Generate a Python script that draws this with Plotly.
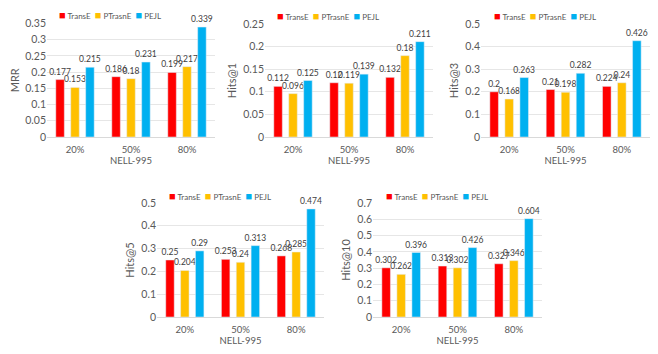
import plotly.graph_objects as go

# percentages of training data kept
CATEGORIES = ["20%", "50%", "80%"]
MODELS = ["TransE", "PTrasnE", "PEJL"]
MODEL_COLORS = ["#FF0000", "#FFC000", "#00B0F0"]

MRR_TRANSE = [0.177, 0.186, 0.199]
MRR_PTRASNE = [0.153, 0.18, 0.217]
MRR_PEJL = [0.215, 0.231, 0.339]

HITS1_TRANSE = [0.112, 0.12, 0.132]
HITS1_PTRASNE = [0.096, 0.119, 0.18]
HITS1_PEJL = [0.125, 0.139, 0.211]

HITS3_TRANSE = [0.2, 0.21, 0.224]
HITS3_PTRASNE = [0.168, 0.198, 0.24]
HITS3_PEJL = [0.263, 0.282, 0.426]

HITS5_TRANSE = [0.25, 0.253, 0.268]
HITS5_PTRASNE = [0.204, 0.24, 0.285]
HITS5_PEJL = [0.29, 0.313, 0.474]

HITS10_TRANSE = [0.302, 0.313, 0.327]
HITS10_PTRASNE = [0.262, 0.302, 0.346]
HITS10_PEJL = [0.396, 0.426, 0.604]

# (y title, series, y max, tick step)
PANELS = [
    ("MRR", [MRR_TRANSE, MRR_PTRASNE, MRR_PEJL], 0.35, 0.05),
    ("Hits@1", [HITS1_TRANSE, HITS1_PTRASNE, HITS1_PEJL], 0.25, 0.05),
    ("Hits@3", [HITS3_TRANSE, HITS3_PTRASNE, HITS3_PEJL], 0.5, 0.1),
    ("Hits@5", [HITS5_TRANSE, HITS5_PTRASNE, HITS5_PEJL], 0.5, 0.1),
    ("Hits@10", [HITS10_TRANSE, HITS10_PTRASNE, HITS10_PEJL], 0.7, 0.1),
]

# page has an 8px body margin, so the figure fills the rest of the window
PAGE_W, PAGE_H, PAGE_MARGIN = 658, 354, 8
W, H = PAGE_W - PAGE_MARGIN, PAGE_H - PAGE_MARGIN

# plot boxes in window pixels (left, right, top, bottom) and legend centres
BOXES = [(47, 215, 23.5, 137), (265, 433, 24, 137), (481, 650, 24, 137),
         (157, 324, 203, 317), (373, 542, 203, 317)]
LEGEND_POS = [(110, 15), (328, 16), (545, 16), (220, 196), (437, 196)]


def fx(x):
    return (x - PAGE_MARGIN) / W


def fy(y):
    return 1 - (y - PAGE_MARGIN) / H


FONT = "Lato, 'Liberation Sans', sans-serif"
GREY = "#595959"

fig = go.Figure()
layout = dict(
    width=W, height=H, margin=dict(l=0, r=0, t=0, b=0),
    plot_bgcolor="white", paper_bgcolor="white",
    barmode="group", bargap=0.2, bargroupgap=0.43,
    showlegend=False, font=dict(family=FONT, color=GREY),
    annotations=[],
)

for i, (title, series, ymax, step) in enumerate(PANELS):
    n = "" if i == 0 else str(i + 1)
    left, right, top, bottom = BOXES[i]
    for name, color, values in zip(MODELS, MODEL_COLORS, series):
        fig.add_trace(go.Bar(
            x=CATEGORIES, y=values, name=name, marker_color=color,
            text=[f"{v:g}" for v in values], textposition="outside",
            textfont=dict(size=8.5, color="#404040", family=FONT),
            constraintext="none", cliponaxis=False,
            xaxis="x" + n, yaxis="y" + n,
        ))
    layout["xaxis" + n] = dict(
        domain=[fx(left), fx(right)], anchor="y" + n, automargin=False,
        showgrid=False, showline=True, linecolor="#D9D9D9", linewidth=1,
        ticks="", ticklabelstandoff=4, tickfont=dict(size=9.5, color=GREY),
        title=dict(text="NELL-995", font=dict(size=9.5, color=GREY), standoff=2),
        fixedrange=True,
    )
    layout["yaxis" + n] = dict(
        domain=[fy(bottom), fy(top)], anchor="x" + n, automargin=False,
        range=[0, ymax], dtick=step, tick0=0,
        showgrid=True, gridcolor="#E6E6E6", gridwidth=1,
        zeroline=False, tickfont=dict(size=10.5, color=GREY),
        title=dict(text=title, font=dict(size=11, color=GREY), standoff=4),
        fixedrange=True,
    )
    # compact legend like the source chart
    legend_text = "  ".join(
        f'<span style="color:{c};font-size:11px">■</span> {m}'
        for m, c in zip(MODELS, MODEL_COLORS)
    )
    lx, ly = LEGEND_POS[i]
    layout["annotations"].append(dict(
        text=legend_text, x=fx(lx), y=fy(ly), xref="paper", yref="paper",
        xanchor="center", yanchor="middle", showarrow=False,
        font=dict(size=8, color=GREY, family=FONT),
    ))

fig.update_layout(**layout)
fig.write_html("out.html")
